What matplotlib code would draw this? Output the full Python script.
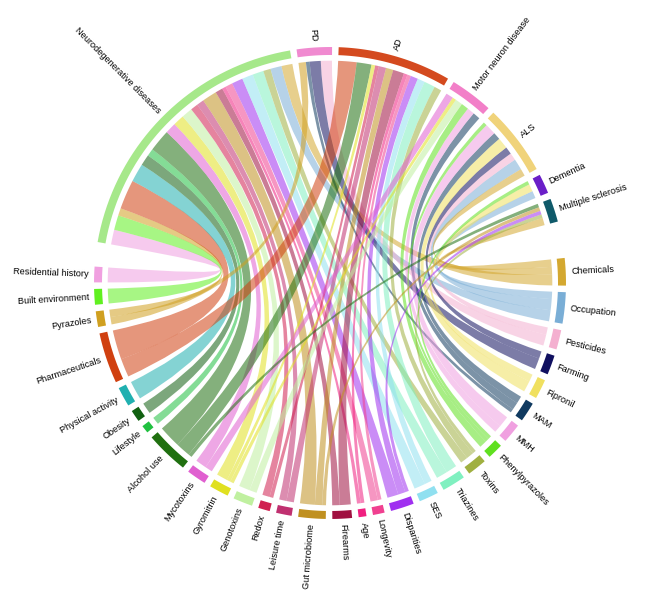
import numpy as np
import matplotlib
matplotlib.use("Agg")
import matplotlib.pyplot as plt
from matplotlib.path import Path
from matplotlib.patches import PathPatch

segments = ["Neurodegenerative diseases", "PD", "AD", "Motor neuron disease", "ALS", "Dementia",
            "Multiple sclerosis", "Chemicals", "Occupation", "Pesticides", "Farming", "Fipronil", "MAM",
            "MMH", "Phenylpyrazoles", "Toxins", "Triazines", "SES", "Disparities", "Longevity", "Age",
            "Firearms", "Gut microbiome", "Leisure time", "Redox", "Genotoxins", "Gyromitrin", "Mycotoxins",
            "Alcohol use", "Lifestyle", "Obesity", "Physical activity", "Pharmaceuticals", "Pyrazoles",
            "Built environment", "Residential history"]
colors = ["#a6e88a", "#f08ad0", "#d44a1f", "#f27fc8", "#f0d37a", "#6a1fc8", "#0f5a6a",
          "#d4a830", "#7aaed6", "#f4b0d0", "#101060", "#f0e060", "#103a60", "#f0a0e0", "#60e020",
          "#a0b040", "#80f0c0", "#90e0f0", "#a030f0", "#f04090", "#f02080", "#a01040", "#c09020",
          "#c03070", "#d02050", "#c0f0a0", "#e0e020", "#e060d0", "#207010", "#20c040", "#106010",
          "#20b0b0", "#d04010", "#d0a020", "#60f020", "#f0a0e0"]

link_source = ["Residential history", "Built environment", "Pyrazoles", "Pharmaceuticals", "Physical activity",
               "Obesity", "Lifestyle", "Alcohol use", "Mycotoxins", "Gyromitrin", "Genotoxins", "Redox",
               "Leisure time", "Gut microbiome", "Firearms", "Age", "Longevity", "Disparities", "SES",
               "Triazines", "Toxins", "Chemicals", "Occupation",
               "Pesticides", "Farming", "Pyrazoles", "MAM",
               "Pharmaceuticals", "Alcohol use", "Gut microbiome", "Firearms", "Age", "Longevity", "Disparities",
               "SES", "Triazines", "Toxins", "Redox", "Leisure time", "Gyromitrin",
               "Mycotoxins", "Genotoxins", "Gyromitrin", "MAM", "MMH", "Phenylpyrazoles",
               "Occupation", "Chemicals", "Pesticides", "Farming", "Fipronil", "MAM", "MMH", "Phenylpyrazoles",
               "Occupation", "Fipronil", "Phenylpyrazoles",
               "Chemicals", "Toxins", "Disparities", "Alcohol use", "Gut microbiome"]
link_target = (["Neurodegenerative diseases"] * 23 + ["PD"] * 4 + ["AD"] * 13 +
               ["Motor neuron disease"] * 6 + ["ALS"] * 8 + ["Dementia"] * 3 + ["Multiple sclerosis"] * 5)
link_value = [4, 4, 2, 8, 5, 3, 2, 6, 3, 3, 3, 2, 2, 4, 2, 1, 2, 3, 3, 3, 2, 3, 3,
              3, 3, 2, 1,
              5, 4, 2, 3, 1, 1, 2, 2, 3, 2, 1, 2, 1,
              2, 2, 1, 2, 2, 2,
              3, 2, 2, 2, 3, 2, 3, 1,
              2, 2, 1,
              2, 1, 1, 1, 1]

n = len(segments)
idx = {s: i for i, s in enumerate(segments)}
sizes = np.zeros(n)
for s, t, v in zip(link_source, link_target, link_value):
    sizes[idx[s]] += v
    sizes[idx[t]] += v

gap = 1.6
big_after = {6: 9.0, 35: 6.0}
gaps = [big_after.get(i, gap) for i in range(n)]
scale = (360 - sum(gaps)) / sizes.sum()
start = -80.0
seg_start = np.zeros(n)
a = start
for i in range(n):
    seg_start[i] = a
    a += sizes[i] * scale + gaps[i]
seg_end = seg_start + sizes * scale
seg_mid = (seg_start + seg_end) / 2

def xy(theta, r):
    t = np.radians(theta)
    return r * np.sin(t), r * np.cos(t)

ends = {i: [] for i in range(n)}
for k, (s, t, v) in enumerate(zip(link_source, link_target, link_value)):
    ends[idx[s]].append((k, idx[t], v))
    ends[idx[t]].append((k, idx[s], v))
pos = {}
for i in range(n):
    lst = sorted(ends[i], key=lambda e: -((seg_mid[e[1]] - seg_mid[i]) % 360))
    a = seg_start[i]
    for k, o, v in lst:
        pos[(k, i)] = (a, a + v * scale)
        a += v * scale

fig = plt.figure(figsize=(6.49, 5.99), dpi=100)
ax = fig.add_axes([0, 0, 1, 1])
R = 228.0
cx, cy = 330, 283
ax.set_xlim(-cx / R, (649 - cx) / R)
ax.set_ylim(-(599 - cy) / R, cy / R)
ax.axis("off")

rc = 0.975
def arcpts(a1, a2, r):
    th = np.linspace(a1, a2, 20)
    return [xy(t, r) for t in th]

for k, (s, t, v) in enumerate(zip(link_source, link_target, link_value)):
    i, j = idx[s], idx[t]
    a1, a2 = pos[(k, i)]
    b1, b2 = pos[(k, j)]
    verts, codes = [], []
    p = arcpts(a1, a2, rc)
    verts += p; codes += [Path.MOVETO] + [Path.LINETO] * (len(p) - 1)
    verts += [(0, 0), xy(b1, rc)]; codes += [Path.CURVE3] * 2
    p = arcpts(b1, b2, rc)
    verts += p[1:]; codes += [Path.LINETO] * (len(p) - 1)
    verts += [(0, 0), xy(a1, rc)]; codes += [Path.CURVE3] * 2
    ax.add_patch(PathPatch(Path(verts, codes), facecolor=colors[i], edgecolor="none", alpha=0.55))

for i in range(n):
    th = np.linspace(seg_start[i], seg_end[i], 40)
    outer = [xy(t, 1.035) for t in th]
    inner = [xy(t, 1.0) for t in th[::-1]]
    ax.fill([p[0] for p in outer + inner], [p[1] for p in outer + inner], color=colors[i], lw=0)
    m = seg_mid[i] % 360
    x, y = xy(m, 1.06)
    rot = 90 - m
    if m > 180:
        rot += 180
        ha = "right"
    else:
        ha = "left"
    ax.text(x, y, segments[i], rotation=rot, rotation_mode="anchor", ha=ha, va="center",
            fontsize=6.6, family="Liberation Sans")

fig.savefig("out.png", dpi=100)
